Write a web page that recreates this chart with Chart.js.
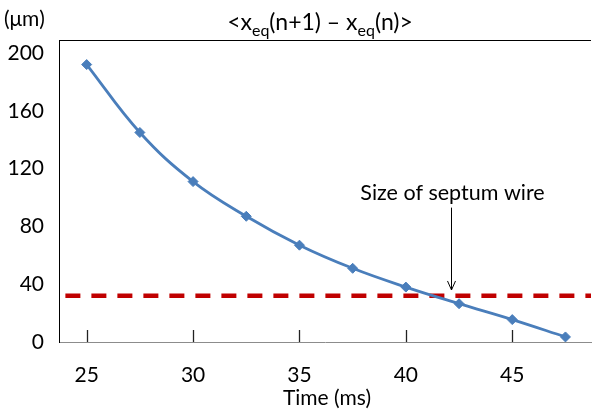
<!DOCTYPE html>
<html lang="en">
<head>
<meta charset="UTF-8" />
<title>Equilibrium step vs time</title>
<script src="https://cdn.jsdelivr.net/npm/chart.js"></script>
<style>
    * { margin: 0; padding: 0; box-sizing: border-box; }
    body { background: #fff; }
    #wrap { width: 597px; height: 412px; position: relative; }
</style>
</head>
<body>
<div id="wrap"><canvas id="chart"></canvas></div>
<script>
// data
const timeValues = [25, 27.5, 30, 32.5, 35, 37.5, 40, 42.5, 45, 47.5];
const stepValues = [192, 145, 111, 87, 67, 51, 38, 26.5, 15.5, 3.5];
const xTickValues = [25, 30, 35, 40, 45];
const yTickValues = [0, 40, 80, 120, 160, 200];
const septumSize = 32;          // µm, dashed red line
const septumLineStart = 24;     // ms
const arrowTime = 42.1;         // ms, where the arrow points
const arrowFrom = 93;           // µm
const arrowTo = 36;             // µm
const noteLevel = 103;          // µm, centre of the annotation text

const X_MIN = 23.7, X_MAX = 48.7, Y_MAX = 209;
const FONT = "Lato, 'Open Sans', sans-serif";
const BLUE = '#4a7ebb';
const RED = '#c00000';

// title, axis labels, tick marks and annotation
const decorations = {
    id: 'decorations',
    afterDraw(chart) {
        const { ctx, chartArea: a, scales: { x, y } } = chart;
        ctx.save();

        // top frame line
        ctx.strokeStyle = '#000';
        ctx.lineWidth = 1;
        ctx.beginPath();
        ctx.moveTo(a.left, a.top + 0.5);
        ctx.lineTo(a.right, a.top + 0.5);
        ctx.stroke();

        // x tick marks pointing up into the plot
        ctx.strokeStyle = '#222';
        ctx.lineWidth = 1.3;
        xTickValues.forEach(v => {
            const px = Math.round(x.getPixelForValue(v)) + 0.5;
            ctx.beginPath();
            ctx.moveTo(px, a.bottom - 12);
            ctx.lineTo(px, a.bottom);
            ctx.stroke();
        });

        ctx.fillStyle = '#000';
        ctx.textBaseline = 'alphabetic';

        // title with subscripts
        const big = '23px ' + FONT, small = '16px ' + FONT;
        const parts = [['<x', big, 0], ['eq', small, 6], ['(n+1) \u2013 x', big, 0], ['eq', small, 6], ['(n)>', big, 0]];
        let total = 0;
        parts.forEach(p => { ctx.font = p[1]; total += ctx.measureText(p[0]).width; });
        let tx = 320 - total / 2;
        ctx.textAlign = 'left';
        parts.forEach(p => {
            ctx.font = p[1];
            ctx.fillText(p[0], tx, 30 + p[2]);
            tx += ctx.measureText(p[0]).width;
        });

        // y unit label
        ctx.font = '21px ' + FONT;
        ctx.fillText('(\u03bcm)', 4, 26);

        // x axis title
        ctx.textAlign = 'center';
        ctx.fillText('Time (ms)', (a.left + a.right) / 2 + 2, 405);

        // annotation
        const ax = Math.round(x.getPixelForValue(arrowTime)) + 0.5;
        ctx.textBaseline = 'middle';
        ctx.font = '21.5px ' + FONT;
        ctx.fillText('Size of septum wire', ax + 1, y.getPixelForValue(noteLevel));
        const y0 = y.getPixelForValue(arrowFrom), y1 = y.getPixelForValue(arrowTo);
        ctx.strokeStyle = '#000';
        ctx.lineWidth = 1;
        ctx.beginPath();
        ctx.moveTo(ax, y0);
        ctx.lineTo(ax, y1);
        ctx.moveTo(ax - 4, y1 - 9);
        ctx.lineTo(ax, y1);
        ctx.lineTo(ax + 4, y1 - 9);
        ctx.stroke();

        ctx.restore();
    }
};

new Chart(document.getElementById('chart'), {
    type: 'line',
    data: {
        datasets: [
            {
                data: [{ x: septumLineStart, y: septumSize }, { x: X_MAX, y: septumSize }],
                borderColor: RED,
                borderWidth: 4.5,
                borderDash: [15, 11],
                pointRadius: 0,
                order: 2
            },
            {
                data: timeValues.map((t, i) => ({ x: t, y: stepValues[i] })),
                borderColor: BLUE,
                backgroundColor: BLUE,
                borderWidth: 2.8,
                tension: 0.4,
                pointStyle: 'rectRot',
                pointRadius: 5,
                pointBorderWidth: 1,
                order: 1
            }
        ]
    },
    options: {
        responsive: true,
        maintainAspectRatio: false,
        animation: false,
        layout: { padding: { top: 40, right: 0, left: 0, bottom: 0 } },
        plugins: { legend: { display: false }, tooltip: { enabled: false } },
        scales: {
            x: {
                type: 'linear',
                min: X_MIN,
                max: X_MAX,
                afterBuildTicks: s => { s.ticks = xTickValues.map(v => ({ value: v })); },
                afterFit: s => { s.height = 70; },
                grid: { display: false, drawTicks: false },
                border: { display: true, color: '#8c8c8c', width: 1 },
                ticks: { padding: 21, color: '#000', font: { family: FONT, size: 21 } }
            },
            y: {
                min: 0,
                max: Y_MAX,
                afterBuildTicks: s => { s.ticks = yTickValues.map(v => ({ value: v })); },
                afterFit: s => { s.width = 59; },
                grid: { display: false, drawTicks: false },
                border: { display: true, color: '#000', width: 1 },
                ticks: { padding: 15, color: '#000', font: { family: FONT, size: 21 } }
            }
        }
    },
    plugins: [decorations]
});
</script>
</body>
</html>
